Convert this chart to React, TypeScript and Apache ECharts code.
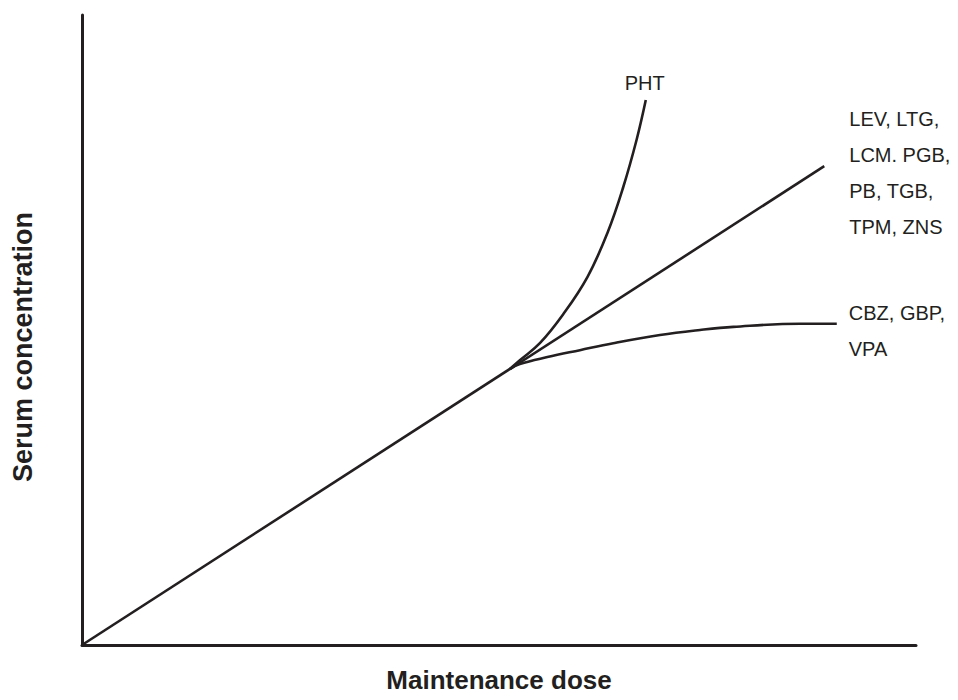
import React, { useEffect, useRef } from "react";
import * as echarts from "echarts";

// Schematic dose–concentration relationships (arbitrary units 0–100)
const linearDose = [0, 89.0];
const linearConc = [0, 76.0];

const phtDose = [51.3, 52.5, 54.9, 57.7, 60.6, 63.0, 64.9, 66.5, 67.6];
const phtConc = [43.8, 45.2, 47.9, 52.5, 58.4, 65.4, 72.7, 80.2, 86.5];

const cbzDose = [51.3, 52.5, 55.8, 59.7, 63.7, 69.3, 74.1, 78.1, 86.1, 90.5];
const cbzConc = [43.8, 44.6, 45.7, 46.8, 47.9, 49.2, 50.0, 50.5, 51.0, 51.0];

const linearLabel = ["LEV, LTG,", "LCM. PGB,", "PB, TGB,", "TPM, ZNS"];
const cbzLabel = ["CBZ, GBP,", "VPA"];
const phtLabel = "PHT";

const xTitle = "Maintenance dose";
const yTitle = "Serum concentration";

const INK = "#231f20";
const FONT = "'Liberation Sans', Arial, Helvetica, sans-serif";

const zip = (xs: number[], ys: number[]) => xs.map((x, i) => [x, ys[i]]);

export default function App() {
  const ref = useRef<HTMLDivElement>(null);
  useEffect(() => {
    if (!ref.current) return;
    const chart = echarts.init(ref.current, undefined, { renderer: "svg" });
    const lineBase = {
      type: "line" as const,
      showSymbol: false,
      symbol: "none",
      lineStyle: { color: INK, width: 2.6 },
      silent: true,
    };
    chart.setOption({
      animation: false,
      backgroundColor: "#ffffff",
      grid: { left: 82, right: 42, top: 15, bottom: 55 },
      xAxis: {
        type: "value",
        min: 0,
        max: 100,
        name: xTitle,
        nameLocation: "middle",
        nameGap: 35,
        nameTextStyle: {
          fontFamily: FONT,
          fontWeight: "bold",
          fontSize: 26,
          color: INK,
          verticalAlign: "middle",
        },
        axisLine: { show: true, lineStyle: { color: INK, width: 3 } },
        axisTick: { show: false },
        axisLabel: { show: false },
        splitLine: { show: false },
      },
      yAxis: {
        type: "value",
        min: 0,
        max: 100,
        axisLine: { show: true, lineStyle: { color: INK, width: 3 } },
        axisTick: { show: false },
        axisLabel: { show: false },
        splitLine: { show: false },
      },
      graphic: [
        {
          type: "text",
          x: 23,
          y: 347,
          rotation: Math.PI / 2,
          style: {
            text: yTitle,
            font: `bold 27px ${FONT}`,
            fill: INK,
            textAlign: "center",
            textVerticalAlign: "middle",
          },
        },
      ],
      series: [
        {
          ...lineBase,
          name: "linear",
          data: zip(linearDose, linearConc),
          endLabel: {
            show: true,
            formatter: linearLabel.join("\n"),
            fontFamily: FONT,
            fontSize: 20,
            color: INK,
            lineHeight: 36,
            distance: 25,
            offset: [0, 7],
            align: "left",
            verticalAlign: "middle",
          },
        },
        {
          ...lineBase,
          name: "PHT",
          smooth: 0.4,
          data: zip(phtDose, phtConc),
          endLabel: {
            show: true,
            formatter: phtLabel,
            distance: 0,
            offset: [-1, -17],
            align: "center",
            verticalAlign: "middle",
            fontFamily: FONT,
            fontSize: 20,
            color: INK,
          },
        },
        {
          ...lineBase,
          name: "CBZ",
          smooth: 0.4,
          data: zip(cbzDose, cbzConc),
          endLabel: {
            show: true,
            formatter: cbzLabel.join("\n"),
            fontFamily: FONT,
            fontSize: 20,
            color: INK,
            lineHeight: 36,
            distance: 12,
            offset: [0, 7],
            align: "left",
            verticalAlign: "middle",
          },
        },
      ],
    });
    return () => chart.dispose();
  }, []);
  return (
    <div
      ref={ref}
      style={{ position: "absolute", left: 0, top: 0, width: 958, height: 700, background: "#fff" }}
    />
  );
}
